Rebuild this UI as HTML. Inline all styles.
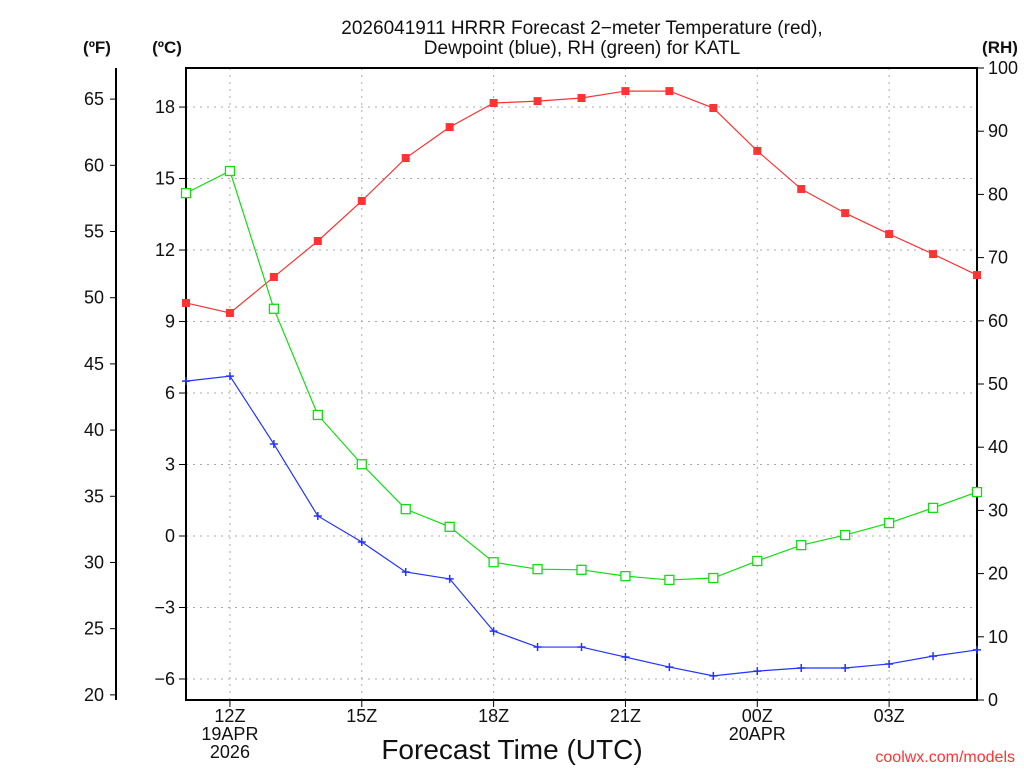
<!DOCTYPE html>
<html><head><meta charset="utf-8"><style>
body{margin:0;background:#fff;width:1024px;height:768px;overflow:hidden}
svg text{font-family:"Liberation Sans",sans-serif;fill:#111}
</style></head><body>
<svg id="c" width="1024" height="768"></svg>
<script>
const hours=[11,12,13,14,15,16,17,18,19,20,21,22,23,24,25,26,27,28,29];
const tempC=[9.78,9.36,10.87,12.38,14.06,15.86,17.16,18.17,18.25,18.38,18.67,18.67,17.96,16.16,14.56,13.55,12.67,11.83,10.95];
const dewC=[6.50,6.71,3.86,0.84,-0.25,-1.51,-1.80,-3.99,-4.66,-4.66,-5.08,-5.50,-5.87,-5.67,-5.54,-5.54,-5.37,-5.04,-4.78];
const rh=[80.2,83.7,61.9,45.1,37.3,30.2,27.4,21.8,20.7,20.6,19.6,19.0,19.3,22.0,24.5,26.1,28.0,30.4,32.9];
const cTicks=[-6,-3,0,3,6,9,12,15,18];
const fTicks=[20,25,30,35,40,45,50,55,60,65];
const rhTicks=[0,10,20,30,40,50,60,70,80,90,100];
const xTickHours=[12,15,18,21,24,27];
const xTickLabels=[["12Z","19APR","2026"],["15Z"],["18Z"],["21Z"],["00Z","20APR"],["03Z"]];

const L=186,R=977,T=68,B=700;
const X=h=>L+(h-11)*(R-L)/18;
const YC=c=>536-c*23.83;
const YF=f=>YC((f-32)*5/9);
const YR=r=>B-r*(B-T)/100;
const svg=document.getElementById('c');const NS='http://www.w3.org/2000/svg';
function mk(t,a,txt){const e=document.createElementNS(NS,t);for(const k in a)e.setAttribute(k,a[k]);if(txt!==undefined)e.textContent=txt;svg.appendChild(e);return e;}
let e;
cTicks.forEach(c=>{e=mk('line',{x1:L,x2:R,y1:YC(c),y2:YC(c),stroke:'#aaa','stroke-dasharray':'2,5'});

});
xTickHours.forEach(h=>{e=mk('line',{x1:X(h),x2:X(h),y1:T,y2:B,stroke:'#aaa','stroke-dasharray':'2,5'});

});
e=mk('rect',{x:L,y:T,width:R-L,height:B-T,fill:'none',stroke:'#000','stroke-width':2});


e=mk('line',{x1:116,x2:116,y1:T,y2:B,stroke:'#000','stroke-width':2});


cTicks.forEach(c=>{mk('line',{x1:L-7,x2:L,y1:YC(c),y2:YC(c),stroke:'#000'});
e=mk('text',{x:L-11,y:YC(c)+6,'text-anchor':'end','font-size':18},c<0?'\u2212'+(-c):String(c));

});
fTicks.forEach(f=>{mk('line',{x1:110,x2:116,y1:YF(f),y2:YF(f),stroke:'#000'});
e=mk('text',{x:104,y:YF(f)+6,'text-anchor':'end','font-size':18},String(f));

});
rhTicks.forEach(r=>{mk('line',{x1:R,x2:R+7,y1:YR(r),y2:YR(r),stroke:'#000'});
e=mk('text',{x:R+11,y:YR(r)+6,'font-size':18},String(r));

});
xTickHours.forEach((h,i)=>{mk('line',{x1:X(h),x2:X(h),y1:B,y2:B+7,stroke:'#000'});
xTickLabels[i].forEach((s,j)=>{e=mk('text',{x:X(h),y:B+22+j*18,'text-anchor':'middle','font-size':18},s);

});});
function line(vals,yf,col,name){const pts=vals.map((v,i)=>X(hours[i])+','+yf(v)).join(' ');
e=mk('polyline',{points:pts,fill:'none',stroke:col,'stroke-width':1.2});

}
line(tempC,YC,'#f33','temperature-line');
line(dewC,YC,'#23f','dewpoint-line');
line(rh,YR,'#1d1','rh-line');
tempC.forEach((v,i)=>{e=mk('rect',{x:X(hours[i])-4,y:YC(v)-4,width:8,height:8,fill:'#f33'});

});
rh.forEach((v,i)=>{e=mk('rect',{x:X(hours[i])-4.5,y:YR(v)-4.5,width:9,height:9,fill:'#fff',stroke:'#1d1','stroke-width':1.3});

});
dewC.forEach((v,i)=>{const x=X(hours[i]),y=YC(v);
e=mk('path',{d:`M${x-4},${y}H${x+4}M${x},${y-4}V${y+4}`,stroke:'#23f','stroke-width':1.5});

});
</script>
<svg width="1024" height="768" style="position:absolute;left:0;top:0">
<text x="97" y="53" text-anchor="middle" font-size="17" font-weight="bold">(ºF)</text>
<text x="167" y="53" text-anchor="middle" font-size="17" font-weight="bold">(ºC)</text>
<text x="1000" y="53" text-anchor="middle" font-size="17" font-weight="bold">(RH)</text>
<text x="582" y="34" text-anchor="middle" font-size="19">2026041911 HRRR Forecast 2−meter Temperature (red),</text>
<text x="582" y="54" text-anchor="middle" font-size="19">Dewpoint (blue), RH (green) for KATL</text>
<text x="512" y="759" text-anchor="middle" font-size="28">Forecast Time (UTC)</text>
<text x="1015" y="762" text-anchor="end" font-size="16" style="fill:#f33">coolwx.com/models</text>
</svg>
</body></html>
